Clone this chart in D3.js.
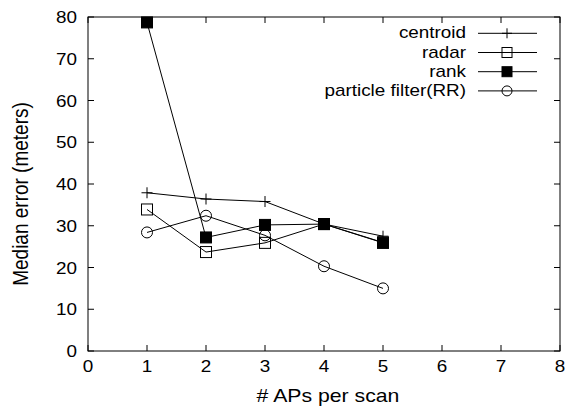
<!DOCTYPE html>
<html><head><meta charset="utf-8">
<script src="https://cdn.jsdelivr.net/npm/d3@7"></script>
<style>body{margin:0;background:#fff}svg{display:block}text{font-family:"Liberation Sans",Arial,sans-serif;fill:#000}</style>
</head><body>
<script>
const xValues = [1, 2, 3, 4, 5];
const centroid = [37.9, 36.4, 35.8, 30.4, 27.5];
const radar = [33.9, 23.7, 25.9, 30.4, 26.0];
const rank = [78.7, 27.2, 30.2, 30.4, 25.9];
const particle = [28.4, 32.4, 27.7, 20.3, 15.0];
const seriesNames = ["centroid", "radar", "rank", "particle filter(RR)"];
const markers = ["plus", "square", "filled", "circle"];
const xTicks = [0,1,2,3,4,5,6,7,8];
const yTicks = [0,10,20,30,40,50,60,70,80];

const W = 569, H = 410;
const m = {l: 88, r: 9, t: 17, b: 59};
const svg = d3.select("body").append("svg").attr("width", W).attr("height", H);
const x = d3.scaleLinear().domain([0, 8]).range([m.l, W - m.r]);
const y = d3.scaleLinear().domain([0, 80]).range([H - m.b, m.t]);
const fs = 16, sx = 1.18, tl = 6;

function txt(sel, tx, ty, s, anchor, size, rot) {
  return sel.append("text")
    .attr("transform", `translate(${tx},${ty}) scale(${sx},1)` + (rot ? ` rotate(${rot})` : ""))
    .attr("text-anchor", anchor).attr("font-size", size).text(s);
}

const g = svg.append("g");
xTicks.forEach(t => {
  g.append("line").attr("x1", x(t)).attr("x2", x(t)).attr("y1", y(0)).attr("y2", y(0) - tl).attr("stroke", "#000");
  g.append("line").attr("x1", x(t)).attr("x2", x(t)).attr("y1", y(80)).attr("y2", y(80) + tl).attr("stroke", "#000");
  txt(g, x(t), y(0) + 21, t, "middle", fs);
});
yTicks.forEach(t => {
  g.append("line").attr("x1", x(0)).attr("x2", x(0) + tl).attr("y1", y(t)).attr("y2", y(t)).attr("stroke", "#000");
  g.append("line").attr("x1", x(8)).attr("x2", x(8) - tl).attr("y1", y(t)).attr("y2", y(t)).attr("stroke", "#000");
  txt(g, x(0) - 11, y(t) + 6, t, "end", fs);
});
svg.append("rect").attr("x", x(0)).attr("y", y(80)).attr("width", x(8) - x(0)).attr("height", y(0) - y(80))
  .attr("fill", "none").attr("stroke", "#000").attr("stroke-width", 1);

txt(svg, 328, 402, "# APs per scan", "middle", 18);
txt(svg, 28, 194, "Median error (meters)", "middle", 19, -90);

function marker(sel, type, cx, cy, s) {
  if (type === "plus") {
    sel.append("path").attr("d", `M${cx - s / 2},${cy}H${cx + s / 2}M${cx},${cy - s / 2}V${cy + s / 2}`).attr("stroke", "#000").attr("fill", "none");
  } else if (type === "square") {
    sel.append("rect").attr("x", cx - s / 2).attr("y", cy - s / 2).attr("width", s).attr("height", s).attr("fill", "none").attr("stroke", "#000");
  } else if (type === "filled") {
    sel.append("rect").attr("x", cx - s / 2).attr("y", cy - s / 2).attr("width", s).attr("height", s).attr("fill", "#000").attr("stroke", "#000");
  } else {
    sel.append("circle").attr("cx", cx).attr("cy", cy).attr("r", s / 2).attr("fill", "none").attr("stroke", "#000");
  }
}

const data = [centroid, radar, rank, particle];
const line = d3.line().x((d, i) => x(xValues[i])).y(d => y(d));
data.forEach((vals, k) => {
  const sg = svg.append("g");
  sg.append("path").attr("d", line(vals)).attr("fill", "none").attr("stroke", "#000").attr("stroke-width", 1);
  vals.forEach((v, i) => marker(sg, markers[k], x(xValues[i]), y(v), 11));
});

const lg = svg.append("g");
seriesNames.forEach((n, k) => {
  const yy = 33.3 + k * 19.2;
  txt(lg, 466, yy + 5, n, "end", fs);
  lg.append("line").attr("x1", 478).attr("x2", 537).attr("y1", yy).attr("y2", yy).attr("stroke", "#000");
  marker(lg, markers[k], 507, yy, 10);
});
</script>
</body></html>
